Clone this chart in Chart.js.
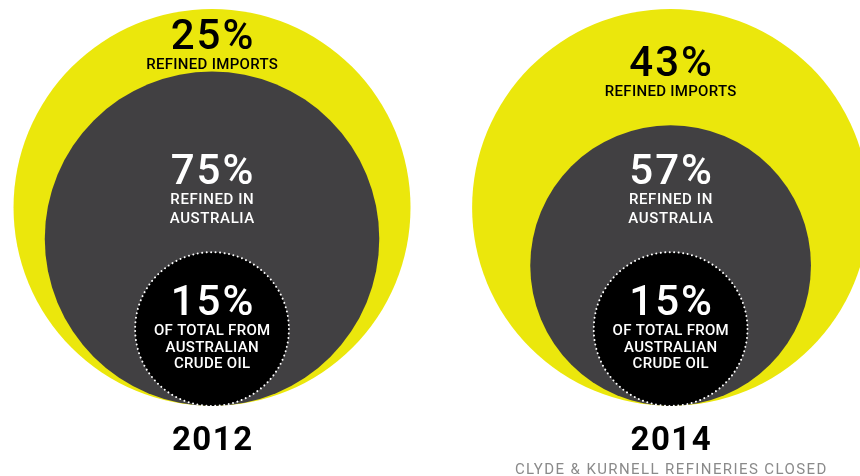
<!DOCTYPE html>
<html lang="en">
<head>
    <meta charset="UTF-8">
    <title>Australian fuel supply</title>
    <style>
        body {
            margin: 0;
            background: #fff;
        }

        #wrap {
            width: 860px;
            height: 476px;
        }
    </style>
    <script src="https://cdn.jsdelivr.net/npm/chart.js"></script>
</head>
<body>
    <div id="wrap">
        <canvas id="chart" width="860" height="476"></canvas>
    </div>

    <script>
        // years shown side by side
        const years = ['2012', '2014'];
        const notes = ['', 'CLYDE & KURNELL REFINERIES CLOSED'];

        // shares printed on the circles (%)
        const importedPct = [25, 43];
        const refinedPct = [75, 57];
        const crudePct = [15, 15];

        // circle areas as drawn, in % of the outer circle
        const outerArea = [100, 100];
        const refinedArea = [71, 50];
        const crudeArea = [15, 15];

        const yellow = '#ebe70c';
        const darkGrey = '#414042';

        // x position of each year's circles, in chart units
        const yearX = [10.68, 33.78];

        // circles all sit on the line y = 0
        function circles(areas) {
            return areas.map((a, i) => ({ x: yearX[i], y: Math.sqrt(a), a: a }));
        }

        // radius in pixels, taken from the y scale so the circles keep their size
        function radiusPx(ctx) {
            const y = ctx.chart.scales.y;
            if (!y || !ctx.raw) return 0;
            const r = y.getPixelForValue(0) - y.getPixelForValue(Math.sqrt(ctx.raw.a));
            return isFinite(r) ? r : 0;
        }

        // dotted white edge on the crude oil circle
        const dottedEdge = {
            id: 'dottedEdge',
            beforeDatasetDraw(chart, args) {
                if (args.index === 0) {
                    chart.ctx.save();
                    chart.ctx.setLineDash([0.01, 4.5]);
                    chart.ctx.lineCap = 'round';
                }
            },
            afterDatasetDraw(chart, args) {
                if (args.index === 0) {
                    chart.ctx.restore();
                }
            }
        };

        // letterSpacing also pads the last glyph, so shift by half of it
        function line(ctx, text, x, y, font, color, spacing) {
            spacing = spacing || 0;
            ctx.font = font;
            ctx.fillStyle = color;
            ctx.letterSpacing = spacing + 'px';
            ctx.fillText(text, x + spacing / 2, y);
        }

        // labels inside and under the circles
        const labels = {
            id: 'labels',
            afterDatasetsDraw(chart) {
                const ctx = chart.ctx;
                const outer = chart.getDatasetMeta(2).data;
                const inner = chart.getDatasetMeta(1).data;
                const crude = chart.getDatasetMeta(0).data;
                const big = '500 42px Roboto';
                const small = '500 15px Roboto';
                ctx.save();
                ctx.textAlign = 'center';
                ctx.textBaseline = 'alphabetic';
                years.forEach((yr, i) => {
                    const ox = outer[i].x;
                    const outerTop = outer[i].y - outer[i].options.radius;
                    const innerTop = inner[i].y - inner[i].options.radius;
                    const mid = (outerTop + innerTop) / 2 + 4;
                    line(ctx, importedPct[i] + '%', ox, mid + 5, big, '#000', 2);
                    line(ctx, 'REFINED IMPORTS', ox, mid + 25, small, '#000', 0.3);

                    const ix = inner[i].x;
                    line(ctx, refinedPct[i] + '%', ix, 184, big, '#fff', 2);
                    line(ctx, 'REFINED IN', ix, 204, small, '#fff', 0.6);
                    line(ctx, 'AUSTRALIA', ix, 223, small, '#fff', 0.6);

                    const cx = crude[i].x;
                    line(ctx, crudePct[i] + '%', cx, 315, big, '#fff', 2);
                    line(ctx, 'OF TOTAL FROM', cx, 335, small, '#fff', 0.3);
                    line(ctx, 'AUSTRALIAN', cx, 352, small, '#fff', 0.3);
                    line(ctx, 'CRUDE OIL', cx, 368, small, '#fff', 0.3);

                    line(ctx, yr, ox, 450, '700 33px Roboto', '#000', 1.5);
                    if (notes[i]) {
                        line(ctx, notes[i], ox, 474, '400 15px Roboto', '#8a8a8a', 1.4);
                    }
                });
                ctx.restore();
            }
        };

        new Chart(document.getElementById('chart'), {
            type: 'scatter',
            data: {
                datasets: [{
                    label: 'Australian crude oil',
                    data: circles(crudeArea),
                    pointBackgroundColor: '#000',
                    pointBorderColor: '#fff',
                    pointBorderWidth: 2,
                    pointRadius: radiusPx,
                    clip: false
                }, {
                    label: 'Refined in Australia',
                    data: circles(refinedArea),
                    pointBackgroundColor: darkGrey,
                    pointBorderWidth: 0,
                    pointRadius: radiusPx,
                    clip: false
                }, {
                    label: 'Refined imports',
                    data: circles(outerArea),
                    pointBackgroundColor: yellow,
                    pointBorderWidth: 0,
                    pointRadius: radiusPx,
                    clip: false
                }]
            },
            options: {
                responsive: false,
                animation: false,
                events: [],
                layout: { padding: 0, autoPadding: false },
                plugins: {
                    legend: { display: false },
                    tooltip: { enabled: false }
                },
                scales: {
                    x: { type: 'linear', min: 0, max: 43.32, display: false },
                    y: { type: 'linear', min: -3.53, max: 20.45, display: false }
                }
            },
            plugins: [dottedEdge, labels]
        });
    </script>
</body>
</html>
